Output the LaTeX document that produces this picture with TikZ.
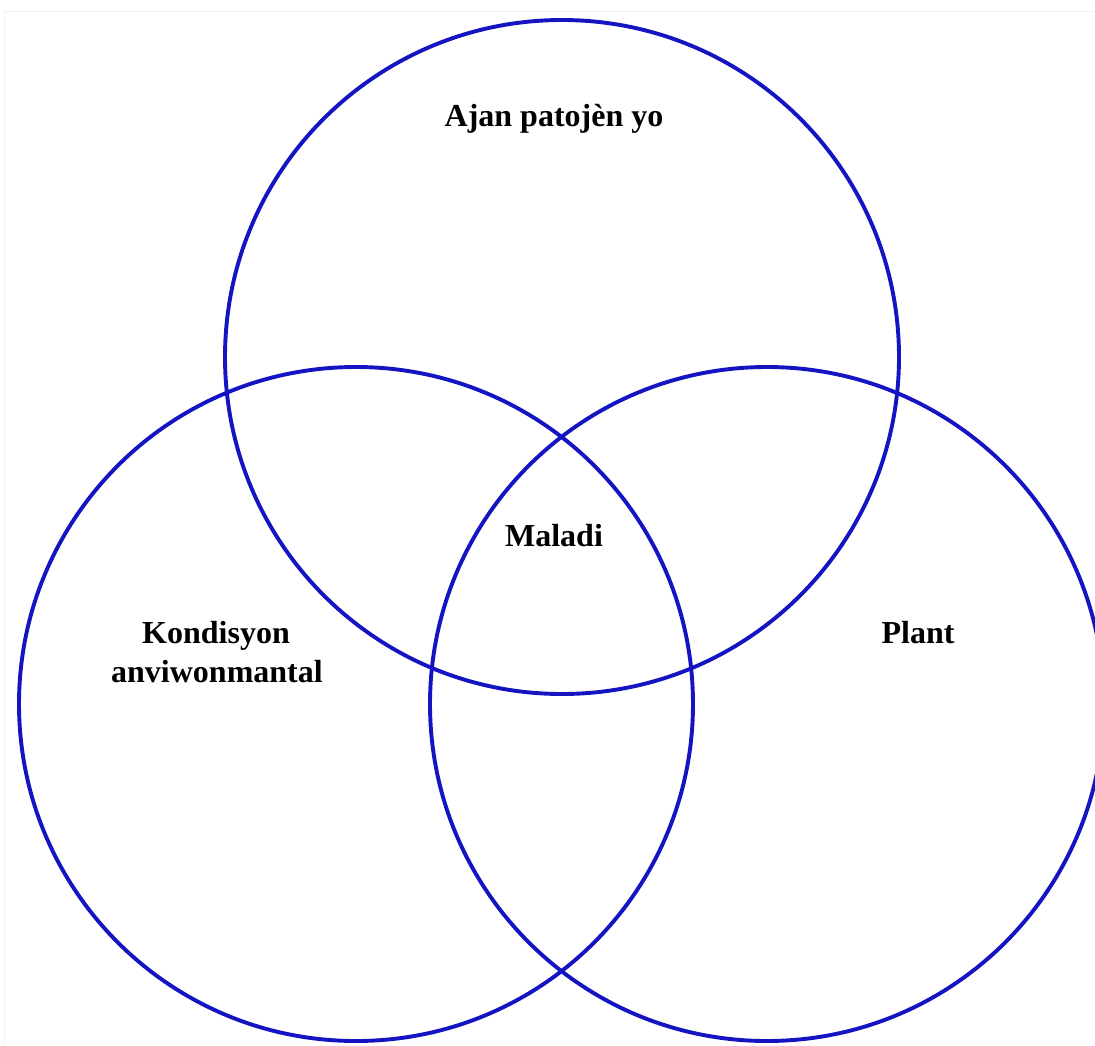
\documentclass[tikz,border=0pt]{standalone}
\usepackage{fontspec}
\setmainfont{Liberation Serif}
\definecolor{vennblue}{RGB}{20,20,195}
\begin{document}
\begin{tikzpicture}[x=1pt,y=-1pt,
  venn/.style={circle, draw=vennblue, line width=3.9pt, minimum size=674pt, inner sep=0pt},
  lbl/.style={anchor=base, font=\fontsize{32}{38}\selectfont\bfseries, text=black, inner sep=0pt, align=center}]
  \useasboundingbox (0,0) rectangle (1095,1045);
  \clip (0,0) rectangle (1095,1045);
  \fill[white] (0,0) rectangle (1095,1045);
  \draw[black!5, line width=1pt] (4,1046) -- (4,11) -- (1096,11);
  \node[venn] (top) at (562,357) {};
  \node[venn] (left) at (356,704) {};
  \node[venn] (right) at (767,704) {};
  \node[lbl] (pat) at (554,126) {Ajan patojèn yo};
  \node[lbl] (mal) at (554,546) {Maladi};
  \node[lbl] (kon) at (216,643) {Kondisyon};
  \node[lbl] (anv) at (217,682) {anviwonmantal};
  \node[lbl] (pla) at (918,643) {Plant};
\end{tikzpicture}
\end{document}
